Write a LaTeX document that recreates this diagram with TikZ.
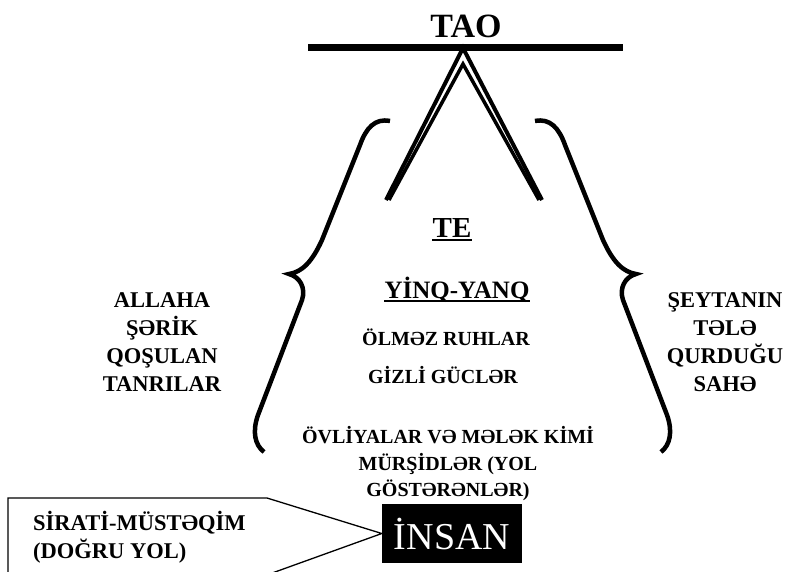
\documentclass[tikz,border=0pt]{standalone}
\usepackage{fontspec}
\setmainfont{Liberation Serif}

\begin{document}
\begin{tikzpicture}[x=1pt,y=-1pt,
    lbl/.style={font=\bfseries\fontsize{22.5}{28}\selectfont,align=center,inner sep=0pt},
    mid/.style={font=\bfseries\fontsize{20}{26.5}\selectfont,align=center,inner sep=0pt},
    heavy/.style={line width=4.5pt},
    uline/.style={line width=1.6pt},
    sidebrace/.pic={\draw[heavy] (390,121) .. controls (375,118) and (366,128) .. (360,145)
        -- (322,240) .. controls (312,262) and (302,272) .. (289,274)
        .. controls (300,277) and (306,288) .. (302,300)
        -- (258,415) .. controls (252,432) and (255,445) .. (264,452);}]
    \clip (0,0) rectangle (787,571);

    % Tao and the bar
    \node[font=\bfseries\fontsize{34}{40}\selectfont,inner sep=0pt,anchor=base] (tao) at (466,37) {TAO};
    \draw[line width=7pt] (308,47) -- (623,47);
    \coordinate (apex) at (463,48);
    \draw[line width=4pt] (386,200) -- (apex) -- (542,200);
    \draw[line width=3.5pt] (389,200) -- (463,64) -- (539,200);

    % braces
    \pic at (0,0) {sidebrace};
    \pic[xscale=-1] at (925,0) {sidebrace};

    % middle texts
    \node[mid,font=\bfseries\fontsize{29}{34}\selectfont,anchor=base] (te) at (452,237) {TE};
    \draw[uline] ([yshift=-3pt]te.base west) -- ([yshift=-3pt]te.base east);
    \node[mid,font=\bfseries\fontsize{25}{30}\selectfont,anchor=base] (yin) at (457,298) {YİNQ-YANQ};
    \draw[uline] ([yshift=-3pt]yin.base west) -- ([yshift=-3pt]yin.base east);
    \node[mid,anchor=base] (ruh) at (446,345) {ÖLMƏZ RUHLAR};
    \node[mid,anchor=base] (guc) at (443,383) {GİZLİ GÜCLƏR};
    \node[mid] (ovl) at (448,464) {ÖVLİYALAR VƏ MƏLƏK KİMİ\\MÜRŞİDLƏR (YOL\\GÖSTƏRƏNLƏR)};

    % side labels
    \node[lbl] (sirk) at (162,342.5) {ALLAHA\\ŞƏRİK\\QOŞULAN\\TANRILAR};
    \node[lbl] (seytan) at (725,342.5) {ŞEYTANIN\\TƏLƏ\\QURDUĞU\\SAHƏ};

    % man and the straight path
    \node[fill=black,text=white,font=\fontsize{38}{44}\selectfont,
          minimum width=140pt,minimum height=59pt,inner sep=0pt] (insan) at (452,533.5) {İNSAN};
    \draw[line width=1.3pt] (8,600) -- (8,498) -- (267,498) -- (insan.west) -- (225,590);
    \node[lbl,align=left,anchor=west] (yol) at (33,537) {SİRATİ-MÜSTƏQİM\\(DOĞRU YOL)};
\end{tikzpicture}
\end{document}
